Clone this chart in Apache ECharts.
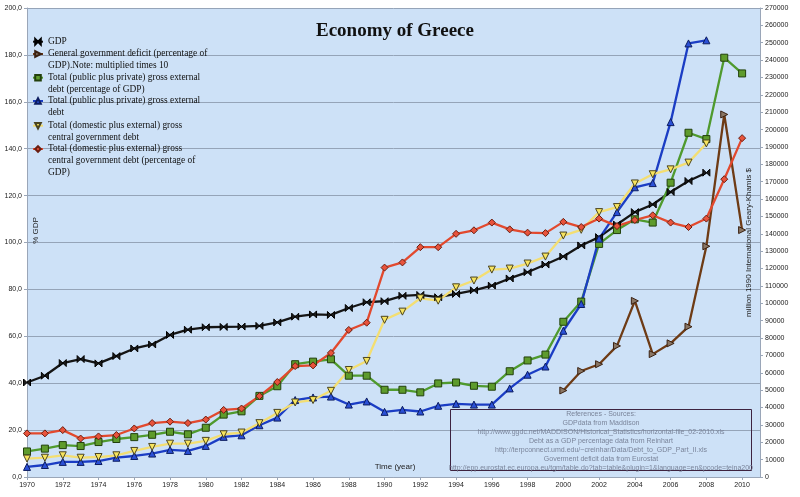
<!DOCTYPE html>
<html>
<head>
<meta charset="utf-8">
<title>Economy of Greece</title>
<script src="https://cdn.jsdelivr.net/npm/echarts@6.0.0/dist/echarts.min.js"></script>
<style>
  html, body { margin: 0; padding: 0; background: #fff; }
  #chart { width: 800px; height: 497px; }
</style>
</head>
<body>
<div id="chart"></div>
<script>
// years on the x axis (2011 is only there to leave room at the right edge)
var years = ['1970', '1971', '1972', '1973', '1974', '1975', '1976', '1977', '1978', '1979',
  '1980', '1981', '1982', '1983', '1984', '1985', '1986', '1987', '1988', '1989',
  '1990', '1991', '1992', '1993', '1994', '1995', '1996', '1997', '1998', '1999',
  '2000', '2001', '2002', '2003', '2004', '2005', '2006', '2007', '2008', '2009',
  '2010', '2011'];

// million 1990 International Geary-Khamis $ (right axis)
var gdp = [54400, 58300, 65600, 67900, 65400, 69600, 74000, 76300, 81800, 84800,
  86200, 86400, 86600, 87000, 89000, 92300, 93600, 93300, 97300, 100600,
  101200, 104300, 104800, 103500, 105400, 107500, 110200, 114300, 117900, 122300,
  126900, 133300, 138100, 145400, 152500, 156900, 164100, 170400, 175200];

// % GDP x 10 (left axis)
var deficitX10 = [null, null, null, null, null, null, null, null, null, null,
  null, null, null, null, null, null, null, null, null, null,
  null, null, null, null, null, null, null, null, null, null,
  36.9, 45.2, 48.1, 55.9, 75.1, 52.4, 57.0, 64.1, 98.4, 154.6, 105.3];

// % GDP (left axis)
var extDebtPct = [10.9, 12.1, 13.6, 13.2, 14.9, 16.2, 17.0, 18.0, 19.3, 18.2,
  21.0, 26.6, 28.0, 34.6, 38.7, 48.1, 49.2, 50.2, 43.2, 43.2,
  37.2, 37.2, 36.1, 39.9, 40.3, 38.9, 38.5, 45.1, 49.7, 52.2,
  66.2, 74.8, 99.4, 105.3, 109.9, 108.5, 125.5, 146.8, 144.1, 178.8, 172.1];

// right axis
var extDebt = [5800, 6900, 8700, 8700, 9200, 11100, 12100, 13500, 15600, 15000,
  17900, 23100, 24000, 29800, 34200, 44300, 45800, 46300, 41700, 43500,
  37500, 38700, 37700, 41000, 42100, 41700, 41700, 51000, 58900, 63600,
  84200, 99600, 137200, 152500, 166800, 169200, 204300, 249600, 251400];

// right axis
var govDebt = [10600, 11100, 12500, 11100, 11500, 12500, 15000, 17300, 19200, 19200,
  20800, 24600, 25600, 31000, 36900, 42900, 44300, 49600, 61600, 66800,
  90500, 95200, 102900, 101500, 109200, 113100, 119400, 120000, 122900, 126900,
  139000, 142300, 152500, 155400, 169000, 174300, 177100, 181000, 192000];

// % GDP (left axis)
var govDebtPct = [18.6, 18.6, 20.0, 16.4, 17.3, 17.9, 20.7, 23.0, 23.6, 23.0,
  24.5, 28.6, 29.2, 34.5, 40.5, 47.3, 47.6, 52.9, 62.7, 65.8,
  89.3, 91.5, 98.0, 98.0, 103.7, 105.2, 108.5, 105.6, 104.2, 104.0,
  108.8, 106.6, 110.2, 107.0, 109.6, 111.6, 108.5, 106.6, 110.2, 127.0, 144.5];

var names = [
  'GDP',
  'General government deficit (percentage of\nGDP).Note: multiplied times 10',
  'Total (public plus private) gross external\ndebt (percentage of GDP)',
  'Total (public plus private) gross external\ndebt',
  'Total (domestic plus external) gross\ncentral government debt',
  'Total (domestic plus external) gross\ncentral government debt (percentage of\nGDP)'
];

var sources = [
  'References - Sources:',
  'GDPdata from Maddison',
  'http://www.ggdc.net/MADDISON/Historical_Statistics/horizontal-file_02-2010.xls',
  'Debt as a GDP percentage data from Reinhart',
  'http://terpconnect.umd.edu/~creinhar/Data/Debt_to_GDP_Part_II.xls',
  'Goverment deficit data from Eurostat',
  'http://epp.eurostat.ec.europa.eu/tgm/table.do?tab=table&plugin=1&language=en&pcode=teina200'
];

var sans = 'Liberation Sans, Arial, sans-serif';
var serif = 'Liberation Serif, Times New Roman, serif';

function line(name, data, axis, symbol, lineColor, fill, border) {
  return {
    name: name,
    type: 'line',
    yAxisIndex: axis,
    data: data,
    symbol: symbol,
    symbolSize: 7,
    showAllSymbol: true,
    connectNulls: false,
    lineStyle: { color: lineColor, width: 2.3 },
    itemStyle: { color: fill, borderColor: border, borderWidth: 1 }
  };
}

// one legend per entry; blank lines in front push the text down so the
// marker sits next to the first line, as in the original
var lh = 11.7;
var iconY = [41.7, 54, 77.7, 101, 125.7, 149];
var legends = names.map(function(n, i) {
  var rows = n.split('\n').length;
  var total = 2 * rows - 1;
  return {
    data: [n],
    left: 32,
    top: iconY[i] - total * lh / 2,
    padding: 0,
    itemWidth: 10,
    itemHeight: 7,
    itemGap: 0,
    formatter: function(name) {
      return new Array(rows).join(' \n') + name;
    },
    textStyle: { fontFamily: serif, fontSize: 9.4, lineHeight: lh, color: '#111' }
  };
});

var chart = echarts.init(document.getElementById('chart'));
chart.setOption({
  animation: false,
  backgroundColor: '#ffffff',
  title: {
    text: 'Economy of Greece',
    left: 311,
    top: 17,
    textStyle: { fontFamily: serif, fontSize: 19, fontWeight: 'bold', color: '#111' }
  },
  legend: legends,
  grid: {
    left: 27, right: 40, top: 8, bottom: 20,
    outerBoundsMode: 'none',
    show: true, backgroundColor: '#cde1f7', borderWidth: 0
  },
  xAxis: {
    type: 'category',
    data: years,
    boundaryGap: false,
    name: 'Time (year)',
    nameLocation: 'middle',
    nameGap: -14,
    nameMoveOverlap: false,
    nameTextStyle: { fontFamily: sans, fontSize: 8, color: '#222', padding: [0, 0, 0, 3] },
    axisLine: { lineStyle: { color: '#9aa6b8' } },
    axisTick: { interval: 1, length: 3, lineStyle: { color: '#9aa6b8' } },
    axisLabel: { interval: 1, fontFamily: sans, fontSize: 7, color: '#222', margin: 5 },
    splitLine: { show: false }
  },
  yAxis: [
    {
      type: 'value',
      min: 0, max: 200, interval: 20,
      name: '% GDP',
      nameLocation: 'middle',
      nameGap: -13,
      nameMoveOverlap: false,
      nameTextStyle: { fontFamily: sans, fontSize: 8, color: '#222', padding: [0, 0, 0, 24] },
      axisLine: { show: true, lineStyle: { color: '#9aa6b8' } },
      axisTick: { show: true, length: 3, lineStyle: { color: '#9aa6b8' } },
      axisLabel: {
        fontFamily: sans, fontSize: 7, color: '#222', margin: 5,
        formatter: function(v) { return v.toFixed(1).replace('.', ','); }
      },
      splitLine: { lineStyle: { color: '#95a4b8', width: 1 } }
    },
    {
      type: 'value',
      position: 'right',
      min: 0, max: 270000, interval: 10000,
      name: 'million 1990 International Geary-Khamis $',
      nameLocation: 'middle',
      nameGap: -15,
      nameMoveOverlap: false,
      nameTextStyle: { fontFamily: sans, fontSize: 8, color: '#222' },
      axisLine: { show: true, lineStyle: { color: '#9aa6b8' } },
      axisTick: { show: true, length: 3, lineStyle: { color: '#9aa6b8' } },
      axisLabel: {
        fontFamily: sans, fontSize: 7, color: '#222', margin: 5,
        formatter: function(v) { return String(v); }
      },
      splitLine: { show: false }
    }
  ],
  graphic: [
    {
      type: 'rect',
      shape: { x: 450.5, y: 409.5, width: 301, height: 61 },
      style: { fill: null, stroke: '#3d2340', lineWidth: 1 },
      z: 100
    },
    {
      type: 'text',
      x: 601, y: 409.5,
      style: {
        text: sources.join('\n'),
        align: 'center', verticalAlign: 'top',
        fontFamily: sans, fontSize: 7, lineHeight: 9,
        fill: '#7a849a'
      },
      z: 100
    }
  ],
  series: [
    line(names[0], gdp, 1, 'path://M0,0L5,5L0,10ZM10,0L5,5L10,10Z', '#151515', '#1c1c1c', '#000'),
    line(names[1], deficitX10, 0, 'path://M0,0L10,5L0,10Z', '#6e3b15', '#8a7664', '#3a2010'),
    line(names[2], extDebtPct, 0, 'rect', '#4f9a2e', '#5e9b2c', '#22400c'),
    line(names[3], extDebt, 1, 'triangle', '#1b3dc4', '#2b50d6', '#0c1c60'),
    line(names[4], govDebt, 1, 'path://M0,0L10,0L5,10Z', '#f3de72', '#f7e45e', '#4a4420'),
    line(names[5], govDebtPct, 0, 'diamond', '#e2492e', '#e8533c', '#6a1e10')
  ]
});
</script>
</body>
</html>
